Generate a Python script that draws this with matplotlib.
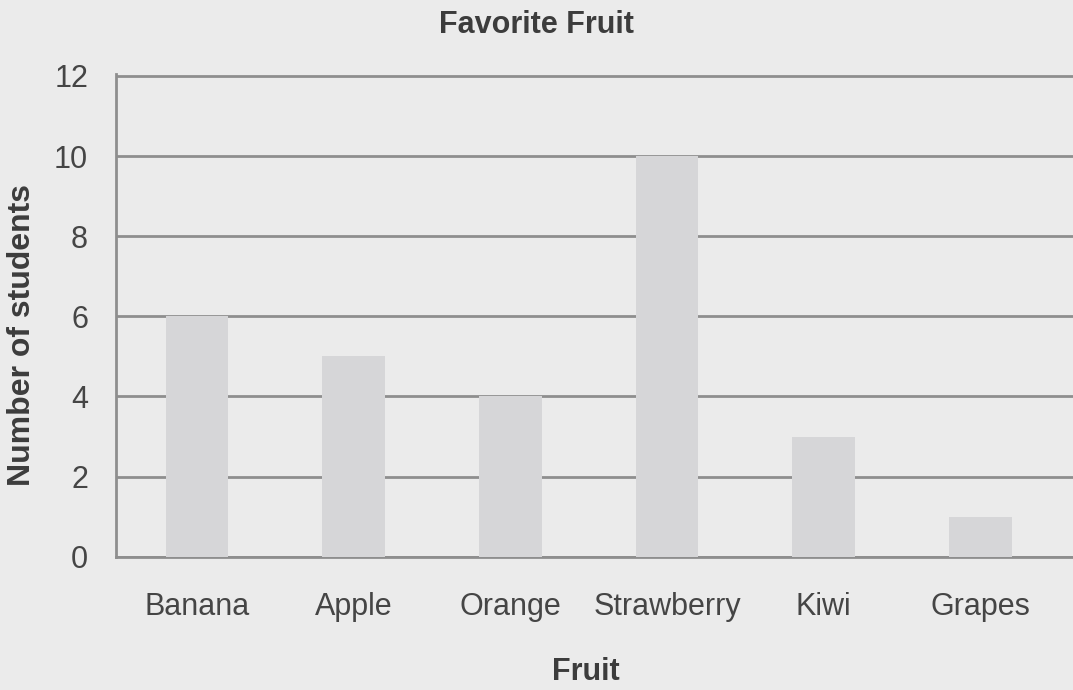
import matplotlib
matplotlib.use("Agg")
import matplotlib.pyplot as plt
import numpy as np

plt.rcParams['font.family'] = ['Liberation Sans', 'DejaVu Sans']

# Favorite fruit survey
fruits = ['Banana', 'Apple', 'Orange', 'Strawberry', 'Kiwi', 'Grapes']
students = [6, 5, 4, 10, 3, 1]
y_ticks = [0, 2, 4, 6, 8, 10, 12]

bg = '#ebebeb'
bar_color = '#d6d6d8'
grid_color = '#8e8e8e'
text_color = '#3c3c3c'

fig = plt.figure(figsize=(10.73, 6.9), dpi=100, facecolor=bg)
ax = fig.add_axes([0.108, 0.193, 0.892, 0.70])
ax.set_facecolor(bg)

x = np.arange(len(fruits))
ax.bar(x, students, width=0.40, color=bar_color, zorder=3)

ax.set_ylim(0, 12.05)
ax.set_xlim(-0.517, 5.59)
ax.set_yticks(y_ticks)
ax.set_xticks(x)
ax.set_xticklabels(fruits)
ax.yaxis.grid(True, color=grid_color, linewidth=2, zorder=1)
ax.set_axisbelow(True)

for s in ['top', 'right']:
    ax.spines[s].set_visible(False)
ax.spines['left'].set_color(grid_color)
ax.spines['left'].set_linewidth(2)
ax.spines['bottom'].set_color(grid_color)
ax.spines['bottom'].set_linewidth(2)

ax.tick_params(axis='both', length=0, labelsize=22, labelcolor='#454545')
ax.tick_params(axis='y', pad=20)
ax.tick_params(axis='x', pad=25)

# axis titles and chart title placed as in the worksheet
fig.text(0.546, 0.026, 'Fruit', ha='center', va='center', fontsize=22,
         fontweight='bold', color=text_color)
fig.text(0.0205, 0.514, 'Number of students', ha='center', va='center', rotation=90,
         fontsize=23, fontweight='bold', color=text_color)
fig.text(0.4996, 0.964, 'Favorite Fruit', ha='center', va='center', fontsize=22,
         fontweight='bold', color=text_color)

fig.savefig('out.png', dpi=100, facecolor=bg)
